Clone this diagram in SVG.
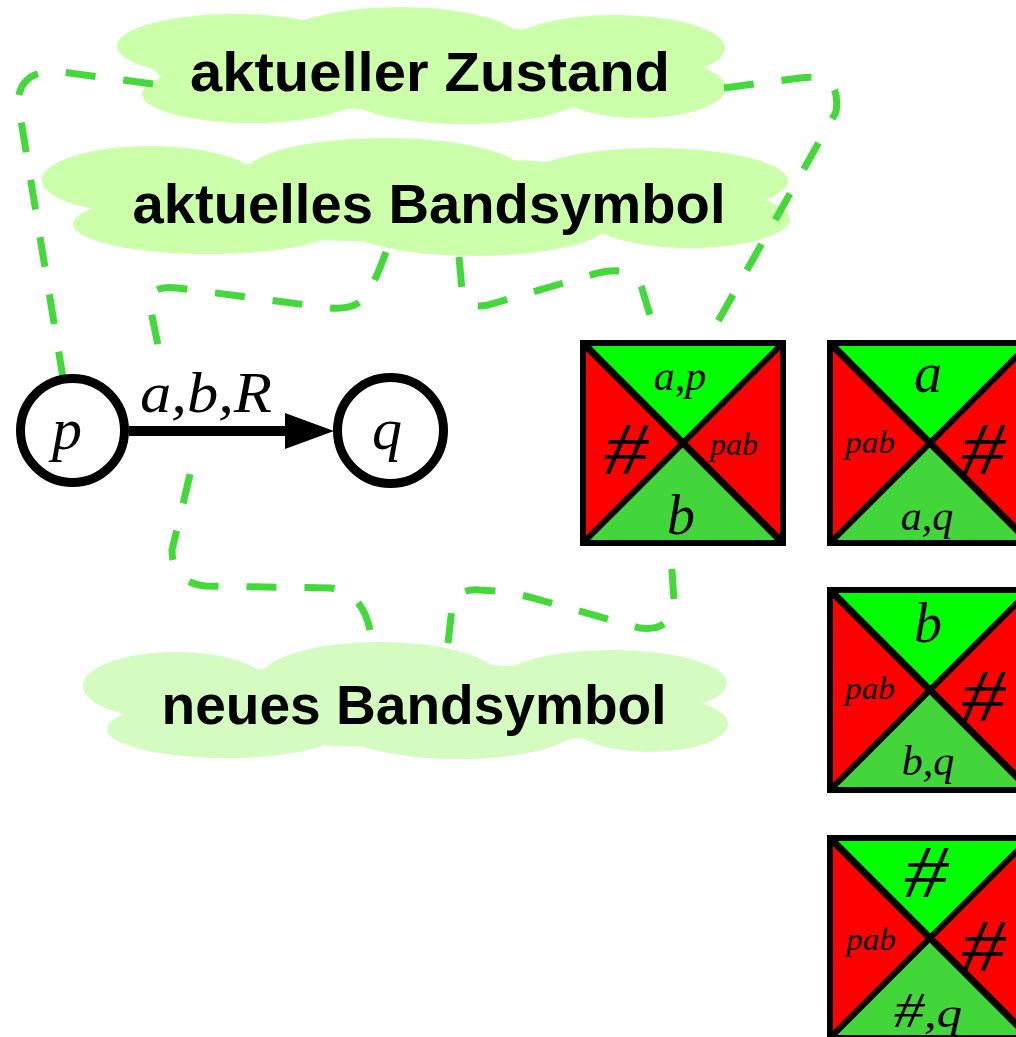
<svg xmlns="http://www.w3.org/2000/svg" xmlns:xlink="http://www.w3.org/1999/xlink" width="1016" height="1037" viewBox="0 0 1016 1037">
<style>
.cl1{fill:#ccffaa}
.cl3{fill:#d4fcc0}
.ct{font-family:"Liberation Sans",Arial,sans-serif;font-weight:bold;font-size:56px;fill:#000;text-anchor:middle}
.dash{fill:none;stroke:#43d93a;stroke-width:7;stroke-dasharray:30 28}
.m{font-family:"Liberation Serif","Times New Roman",serif;font-style:italic;fill:#000;text-anchor:middle}
.big{font-size:56px}
.mid{font-size:42px}
.sm{font-size:32px}
.hash{font-size:74px}
</style>
<defs>
<g id="tilebg">
<polygon points="0,0 200,0 100,100" fill="#00ff00"/>
<polygon points="0,200 200,200 100,100" fill="#43d63a"/>
<polygon points="0,0 0,200 100,100" fill="#ff0000"/>
<polygon points="200,0 200,200 100,100" fill="#ff0000"/>
<line x1="0" y1="0" x2="200" y2="200" stroke="#000" stroke-width="7"/>
<line x1="200" y1="0" x2="0" y2="200" stroke="#000" stroke-width="6"/>
<rect x="0" y="0" width="200" height="200" fill="none" stroke="#000" stroke-width="6"/>
</g>
</defs>

<g id="cloud-zustand" class="cl1">
<ellipse cx="235" cy="46" rx="118" ry="32"/>
<ellipse cx="400" cy="42" rx="122" ry="35"/>
<ellipse cx="615" cy="48" rx="110" ry="33"/>
<ellipse cx="252" cy="94" rx="110" ry="29"/>
<ellipse cx="465" cy="92" rx="122" ry="32"/>
<ellipse cx="640" cy="88" rx="86" ry="30"/>
<ellipse cx="420" cy="68" rx="265" ry="42"/>
</g>
<g id="cloud-bandsymbol" class="cl1">
<ellipse cx="150" cy="180" rx="108" ry="34"/>
<ellipse cx="385" cy="174" rx="140" ry="36"/>
<ellipse cx="655" cy="181" rx="133" ry="33"/>
<ellipse cx="208" cy="224" rx="135" ry="30"/>
<ellipse cx="475" cy="222" rx="135" ry="34"/>
<ellipse cx="690" cy="219" rx="100" ry="29"/>
<ellipse cx="415" cy="200" rx="320" ry="42"/>
</g>
<g id="cloud-neu" class="cl3">
<ellipse cx="176" cy="686" rx="93" ry="34"/>
<ellipse cx="380" cy="679" rx="120" ry="37"/>
<ellipse cx="612" cy="683" rx="115" ry="33"/>
<ellipse cx="226" cy="729" rx="119" ry="29"/>
<ellipse cx="458" cy="728" rx="118" ry="31"/>
<ellipse cx="650" cy="724" rx="78" ry="28"/>
<ellipse cx="405" cy="705" rx="285" ry="42"/>
</g>

<g id="connectors">
<path class="dash" d="M 153 84 L 62 72 Q 20 68 18 102 L 63 378"/>
<path class="dash" d="M 724 88 L 800 78 Q 842 72 836 112 L 712 332"/>
<path class="dash" d="M 459 257 L 462 290 Q 464 310 488 305 L 598 273 Q 636 264 643 292 L 652 322"/>
<path class="dash" d="M 386 252 Q 376 280 366 296 Q 356 310 330 308 L 178 288 Q 148 284 150 306 L 161 360"/>
<path class="dash" d="M 370 630 Q 362 592 330 588 L 205 586 Q 172 582 172 550 L 193 462"/>
<path class="dash" d="M 448 643 L 452 608 Q 455 588 480 590 Q 510 591 540 600 L 640 628 Q 673 632 674 600 L 671 556"/>
<line x1="129" y1="431" x2="290" y2="431" stroke="#000" stroke-width="10"/>
<polygon points="285,413 334,431 285,449" fill="#000"/>
</g>

<g id="text-zustand"><text class="ct" x="430" y="91" textLength="480" lengthAdjust="spacingAndGlyphs">aktueller Zustand</text></g>
<g id="text-bandsymbol"><text class="ct" x="429" y="223" textLength="593" lengthAdjust="spacingAndGlyphs">aktuelles Bandsymbol</text></g>
<g id="text-neu"><text class="ct" x="414" y="724" textLength="505" lengthAdjust="spacingAndGlyphs">neues Bandsymbol</text></g>

<g id="state-p">
<circle cx="72.5" cy="430.5" r="52" fill="#fff" stroke="#000" stroke-width="9"/>
<text class="m" x="67" y="449" font-size="60">p</text>
</g>
<g id="state-q">
<circle cx="390.5" cy="430.5" r="53" fill="#fff" stroke="#000" stroke-width="9"/>
<text class="m" x="387" y="449" font-size="60">q</text>
</g>
<g id="edge-label">
<text class="m" x="206" y="412" font-size="58" textLength="132" lengthAdjust="spacingAndGlyphs">a,b,R</text>
</g>

<g id="tile1">
<use xlink:href="#tilebg" x="583" y="343"/>
<text class="m mid" x="680" y="390">a,p</text>
<text class="m hash" x="626" y="474" textLength="44" lengthAdjust="spacingAndGlyphs">#</text>
<text class="m sm" x="734" y="455" textLength="48" lengthAdjust="spacingAndGlyphs">pab</text>
<text class="m big" x="681" y="534">b</text>
</g>
<g id="tile2">
<use xlink:href="#tilebg" x="830" y="343"/>
<text class="m big" x="928" y="392">a</text>
<text class="m sm" x="870" y="453" textLength="50" lengthAdjust="spacingAndGlyphs">pab</text>
<text class="m hash" x="983" y="474" textLength="44" lengthAdjust="spacingAndGlyphs">#</text>
<text class="m mid" x="927" y="530">a,q</text>
</g>
<g id="tile3">
<use xlink:href="#tilebg" x="830" y="590"/>
<text class="m big" x="928" y="642">b</text>
<text class="m sm" x="870" y="699" textLength="50" lengthAdjust="spacingAndGlyphs">pab</text>
<text class="m hash" x="983" y="721" textLength="44" lengthAdjust="spacingAndGlyphs">#</text>
<text class="m mid" x="928" y="775">b,q</text>
</g>
<g id="tile4">
<use xlink:href="#tilebg" x="830" y="838"/>
<text class="m hash" x="926" y="897" textLength="44" lengthAdjust="spacingAndGlyphs">#</text>
<text class="m sm" x="871" y="950" textLength="50" lengthAdjust="spacingAndGlyphs">pab</text>
<text class="m hash" x="983" y="971" textLength="44" lengthAdjust="spacingAndGlyphs">#</text>
<text class="m mid" x="928" y="1027" textLength="68" lengthAdjust="spacingAndGlyphs"><tspan font-size="50">#</tspan>,q</text>
</g>
</svg>
